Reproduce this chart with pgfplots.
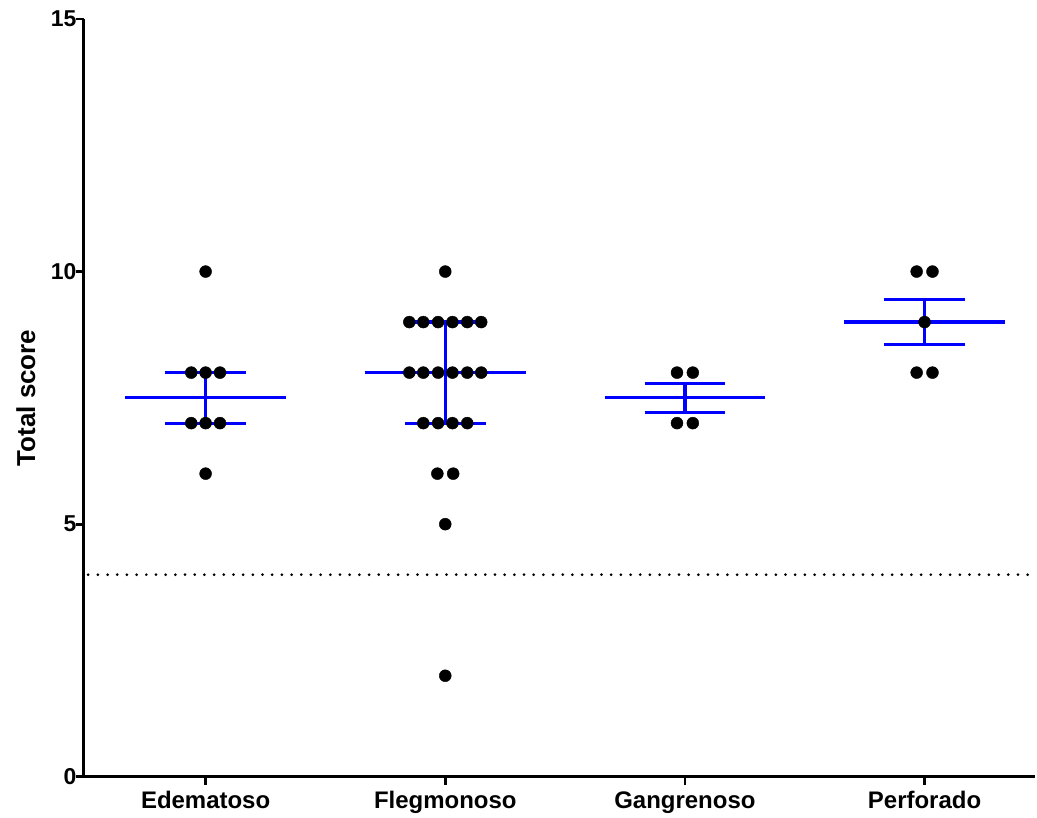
\documentclass[border=0pt]{standalone}
\usepackage{pgfplots}
\pgfplotsset{compat=1.18}
\usepackage{fontspec}
\setmainfont{Liberation Sans}
\definecolor{pblue}{RGB}{0,0,255}
\begin{document}
\begin{tikzpicture}
\begin{axis}[
  scale only axis, width=953pt, height=759pt,
  xmin=-0.508, xmax=3.4625, ymin=0, ymax=15,
  axis lines*=left,
  axis line style={line width=3.2pt, black},
  xtick={0,1,2,3},
  xticklabels={Edematoso,Flegmonoso,Gangrenoso,Perforado},
  ytick={0,5,10,15},
  tick align=outside,
  major tick length=8pt,
  tick style={line width=2.8pt, black},
  ticklabel style={font=\bfseries\fontsize{23}{27}\selectfont},
  yticklabel style={xshift=4pt},
  xticklabel style={yshift=-3pt, font=\bfseries\fontsize{24}{28}\selectfont},
  /pgf/number format/assume math mode=true,
  ylabel={Total score},
  ylabel style={font=\bfseries\fontsize{26}{30}\selectfont, at={(axis description cs:-0.061,0.5)}, anchor=center},
  clip=false,
]
% dotted reference line
\addplot[black, line width=3pt, dash pattern=on 0pt off 9.7pt, line cap=round] coordinates {(-0.49,4) (3.4625,4)};
% blue mean and error lines
\pgfplotsset{bl/.style={pblue, line width=3.2pt, mark=none}}
% Edematoso
\addplot[bl] coordinates {(-0.335,7.5) (0.335,7.5)};
\addplot[bl] coordinates {(-0.168,7) (0.168,7)};
\addplot[bl] coordinates {(-0.168,8) (0.168,8)};
\addplot[bl] coordinates {(0,7) (0,8)};
% Flegmonoso
\addplot[bl] coordinates {(0.665,8) (1.335,8)};
\addplot[bl] coordinates {(0.832,7) (1.168,7)};
\addplot[bl] coordinates {(0.832,9) (1.168,9)};
\addplot[bl] coordinates {(1,7) (1,9)};
% Gangrenoso
\addplot[bl] coordinates {(1.665,7.5) (2.335,7.5)};
\addplot[bl] coordinates {(1.832,7.21) (2.168,7.21)};
\addplot[bl] coordinates {(1.832,7.79) (2.168,7.79)};
\addplot[bl] coordinates {(2,7.21) (2,7.79)};
% Perforado
\addplot[bl] coordinates {(2.665,9) (3.335,9)};
\addplot[bl] coordinates {(2.832,8.55) (3.168,8.55)};
\addplot[bl] coordinates {(2.832,9.45) (3.168,9.45)};
\addplot[bl] coordinates {(3,8.55) (3,9.45)};
% data points
\addplot[only marks, mark=*, mark size=6pt, black] coordinates {
  (0,10)
  (-0.06,8) (0,8) (0.06,8)
  (-0.06,7) (0,7) (0.06,7)
  (0,6)
  (1,10)
  (0.85,9) (0.9083,9) (0.97,9) (1.03,9) (1.0917,9) (1.15,9)
  (0.85,8) (0.9083,8) (0.97,8) (1.03,8) (1.0917,8) (1.15,8)
  (0.9083,7) (0.97,7) (1.03,7) (1.0917,7)
  (0.967,6) (1.033,6)
  (1,5)
  (1,2)
  (1.967,8) (2.033,8)
  (1.967,7) (2.033,7)
  (2.967,10) (3.033,10)
  (3,9)
  (2.967,8) (3.033,8)
};
\end{axis}
\path[use as bounding box] ([xshift=-84pt,yshift=-40pt]current axis.south west) rectangle ([yshift=19pt]current axis.north east);
\end{tikzpicture}
\end{document}
